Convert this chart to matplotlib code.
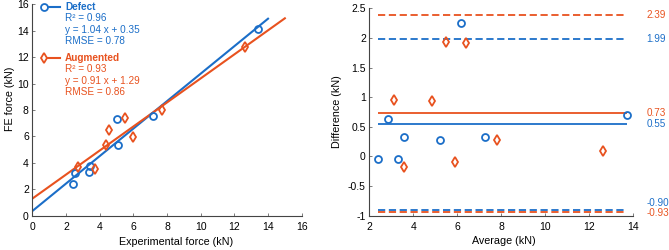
import matplotlib
matplotlib.use("Agg")
import matplotlib.pyplot as plt

plt.rcParams['font.family'] = ['Liberation Sans', 'DejaVu Sans']
plt.rcParams['font.size'] = 7

blue = '#1b6ec8'
orange = '#e8521f'

# left panel: FE vs experimental force
defect_exp = [2.43, 2.54, 3.35, 3.45, 5.05, 5.09, 7.17, 13.39]
defect_fe = [2.40, 3.21, 3.31, 3.76, 7.34, 5.37, 7.52, 14.13]
aug_exp = [2.70, 3.72, 4.39, 4.54, 5.49, 6.00, 7.70, 12.63]
aug_fe = [3.71, 3.56, 5.37, 6.49, 7.42, 5.93, 8.02, 12.75]

defect_fit = (1.04, 0.35)
aug_fit = (0.91, 1.29)
defect_fit_x = [0, 14]
aug_fit_x = [0, 15]

defect_text = ['R² = 0.96', 'y = 1.04 x + 0.35', 'RMSE = 0.78']
aug_text = ['R² = 0.93', 'y = 0.91 x + 1.29', 'RMSE = 0.86']

# right panel: Bland-Altman
defect_avg = [2.40, 2.83, 3.29, 3.56, 5.20, 6.17, 7.27, 13.70]
defect_diff = [-0.04, 0.64, -0.05, 0.32, 0.27, 2.25, 0.32, 0.70]
aug_avg = [3.14, 3.59, 4.83, 5.47, 5.91, 6.41, 7.82, 12.64]
aug_diff = [0.96, -0.17, 0.94, 1.93, -0.10, 1.91, 0.28, 0.10]

defect_mean, defect_loa = 0.55, [1.99, -0.90]
aug_mean, aug_loa = 0.73, [2.39, -0.93]

fig = plt.figure(figsize=(6.69, 2.5), dpi=100)
ax1 = fig.add_axes([32.3/669, 1 - 215.7/250, 269.4/669, 211.4/250])
ax2 = fig.add_axes([369.3/669, 1 - 215.7/250, 264/669, 207.4/250])

for ax in (ax1, ax2):
    ax.spines['top'].set_visible(False)
    ax.spines['right'].set_visible(False)
    ax.spines['left'].set_color('#444444')
    ax.spines['bottom'].set_color('#444444')
    ax.tick_params(direction='in', length=2.5, width=0.6, color='#666666', labelsize=7.5)
    ax.tick_params(axis='x', pad=4.5)
    ax.tick_params(axis='y', pad=2.5)

# left panel
for fit, xs, c in [(defect_fit, defect_fit_x, blue), (aug_fit, aug_fit_x, orange)]:
    ax1.plot(xs, [fit[0]*x + fit[1] for x in xs], color=c, lw=1.5)
ax1.plot(defect_exp, defect_fe, 'o', mfc='none', mec=blue, mew=1.3, ms=5)
ax1.plot(aug_exp, aug_fe, 'd', mfc='none', mec=orange, mew=1.3, ms=5.5)
ax1.set_xlim(0, 16)
ax1.set_ylim(0, 16)
ax1.set_xticks(range(0, 17, 2))
ax1.set_yticks(range(0, 17, 2))
ax1.set_xlabel('Experimental force (kN)', fontsize=7.75)
ax1.set_ylabel('FE force (kN)', fontsize=7.75)
ax1.xaxis.set_label_coords(0.532, -0.103)
ax1.yaxis.set_label_coords(-0.066, 0.554)

# manual legend in pixel offsets from axes top-left
def legend_block(y0, name, lines, c, marker):
    tr = ax1.transAxes
    def ax_pt(px, py):
        return ((px - 32.3) / 269.4, 1 - (py - 4.3) / 211.4)
    x0, yy = ax_pt(44, y0)
    x1, _ = ax_pt(60, y0)
    ax1.plot([x0, x1], [yy, yy], color=c, lw=1.5, transform=tr, clip_on=False)
    ax1.plot([x0], [yy], marker, mfc='white', mec=c, mew=1.3, ms=5, transform=tr, clip_on=False)
    tx, _ = ax_pt(65, y0)
    ax1.text(tx, yy, name, color=c, fontweight='bold', fontsize=7.2, va='center', transform=tr)
    for i, s in enumerate(lines):
        _, ty = ax_pt(0, y0 + 11.3 * (i + 1))
        ax1.text(tx, ty, s, color=c, fontsize=7.2, va='center', transform=tr)

legend_block(7, 'Defect', defect_text, blue, 'o')
legend_block(58, 'Augmented', aug_text, orange, 'd')

# right panel
x_lo, x_hi = min(defect_avg), max(defect_avg)
ax2.hlines(aug_loa, x_lo, x_hi, colors=orange, linestyles=(0, (4, 2)), lw=1.3)
ax2.hlines(defect_loa, x_lo, x_hi, colors=blue, linestyles=(0, (4, 2)), lw=1.3)
ax2.hlines(aug_mean, x_lo, x_hi, colors=orange, lw=1.3)
ax2.hlines(defect_mean, x_lo, x_hi, colors=blue, lw=1.3)
ax2.plot(defect_avg, defect_diff, 'o', mfc='none', mec=blue, mew=1.3, ms=5)
ax2.plot(aug_avg, aug_diff, 'd', mfc='none', mec=orange, mew=1.3, ms=5.5)
ax2.set_xlim(2, 14)
ax2.set_ylim(-1, 2.5)
ax2.set_xticks(range(2, 15, 2))
ax2.set_yticks([-1, -0.5, 0, 0.5, 1, 1.5, 2, 2.5])
ax2.set_yticklabels(['-1', '-0.5', '0', '0.5', '1', '1.5', '2', '2.5'])
ax2.set_xlabel('Average (kN)', fontsize=7.75)
ax2.set_ylabel('Difference (kN)', fontsize=7.75)
ax2.xaxis.set_label_coords(0.51, -0.100)
ax2.yaxis.set_label_coords(-0.102, 0.5)

labels = [(aug_loa[0], 0, orange), (defect_loa[0], 0, blue),
          (aug_mean, 0, orange), (defect_mean, 0, blue),
          (defect_loa[1], 0.12, blue), (aug_loa[1], -0.03, orange)]
for v, dy, c in labels:
    ax2.text(14.61, v + dy, f'{v:.2f}', color=c, fontsize=7.1, va='center', ha='left', clip_on=False)

fig.savefig('out.png', dpi=100)
